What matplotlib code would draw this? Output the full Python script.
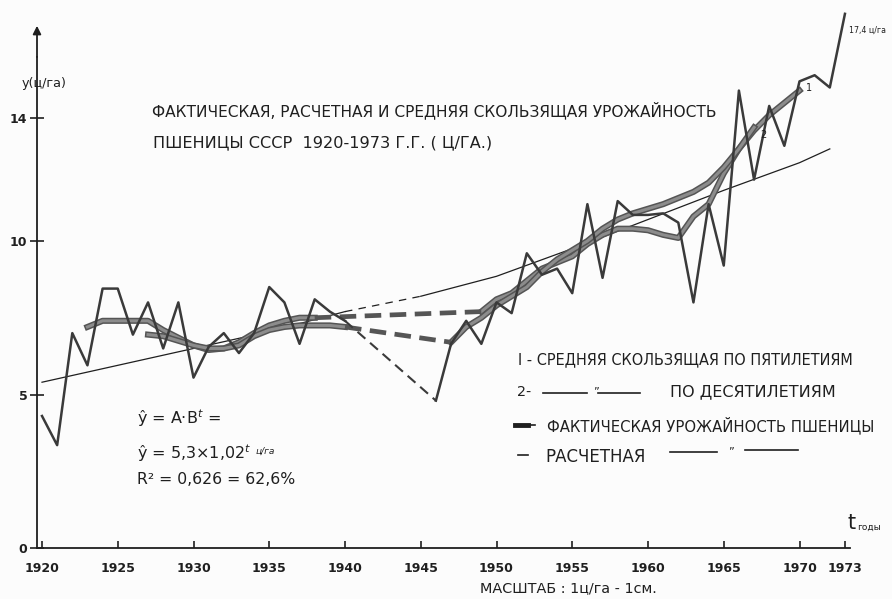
import matplotlib
matplotlib.use("Agg")
import matplotlib.pyplot as plt
from matplotlib import font_manager
from matplotlib.lines import Line2D

# фактическая урожайность (ц/га), до войны и после войны
years_pre = list(range(1920, 1941))
actual_pre = [4.3, 3.35, 7.0, 5.95, 8.45, 8.45, 6.95, 8.0, 6.5, 8.0, 5.55,
              6.55, 7.0, 6.35, 7.0, 8.5, 8.0, 6.65, 8.1, 7.7, 7.4]
years_post = list(range(1946, 1974))
actual_post = [4.8, 6.65, 7.4, 6.65, 8.0, 7.65, 9.6, 8.9, 9.1, 8.3, 11.2, 8.8,
               11.3, 10.85, 10.85, 10.9, 10.6, 8.0, 11.2, 9.2, 14.9, 12.0, 14.4,
               13.1, 15.2, 15.4, 15.0, 17.4]

# 1 - скользящая по пятилетиям
ma5_pre_years = list(range(1923, 1939))
ma5_pre = [7.2, 7.4, 7.4, 7.4, 7.4, 7.1, 6.85, 6.6, 6.45, 6.5, 6.7, 7.0, 7.25,
           7.4, 7.5, 7.5]
ma5_post_years = list(range(1949, 1971))
ma5_post = [7.7, 8.1, 8.3, 8.7, 9.1, 9.3, 9.5, 9.9, 10.2, 10.4, 10.4, 10.35,
            10.2, 10.1, 10.8, 11.2, 12.2, 13.0, 13.6, 14.1, 14.5, 14.9]

# 2 - скользящая по десятилетиям
ma10_pre_years = list(range(1927, 1941))
ma10_pre = [6.95, 6.9, 6.75, 6.6, 6.5, 6.5, 6.6, 6.9, 7.1, 7.2, 7.25, 7.25,
            7.25, 7.2]
ma10_post_years = list(range(1947, 1968))
ma10_post = [6.7, 7.2, 7.5, 7.9, 8.2, 8.5, 9.0, 9.4, 9.7, 10.0, 10.4, 10.7,
             10.9, 11.05, 11.2, 11.4, 11.6, 11.9, 12.4, 13.0, 13.7]

# расчетная (тренд)
trend_years = [1920, 1925, 1930, 1935, 1940, 1945, 1950, 1955, 1960, 1965, 1970, 1972]
trend_vals = [5.4, 5.95, 6.5, 7.05, 7.7, 8.2, 8.85, 9.75, 10.7, 11.65, 12.55, 13.0]

x_ticks = [1920, 1925, 1930, 1935, 1940, 1945, 1950, 1955, 1960, 1965, 1970, 1973]
y_ticks = [0, 5, 10, 14]

W, H = 892, 599
names = {f.name for f in font_manager.fontManager.ttflist}
narrow = "Liberation Sans Narrow" if "Liberation Sans Narrow" in names else "DejaVu Sans"
INK = "#1f1f1f"
GREY = "#8c8c8c"

fig = plt.figure(figsize=(W / 100, H / 100), dpi=100, facecolor="#fcfcfc")
x0_px, x1_px, y0_px, ytop_px = 37, 850, 548, 2
px_yr, yr0_px, px_unit = 15.15, 42, 30.7
ax = fig.add_axes([x0_px / W, 1 - y0_px / H, (x1_px - x0_px) / W, (y0_px - ytop_px) / H])
ax.set_facecolor("none")
ax.set_xlim(1920 - (yr0_px - x0_px) / px_yr, 1920 + (x1_px - yr0_px) / px_yr)
ax.set_ylim(0, (y0_px - ytop_px) / px_unit)

for s in ["top", "right"]:
    ax.spines[s].set_visible(False)
ax.spines["left"].set_bounds(0, 16.0)
for s in ["left", "bottom"]:
    ax.spines[s].set_color(INK)
    ax.spines[s].set_linewidth(1.3)
ax.annotate("", xy=(ax.get_xlim()[0], 17.1), xytext=(ax.get_xlim()[0], 15.9),
            arrowprops=dict(arrowstyle="-|>", color=INK, lw=1.3, mutation_scale=12),
            annotation_clip=False)

ax.set_xticks(x_ticks)
ax.set_xticklabels([str(v) for v in x_ticks], family=narrow, fontsize=9,
                   fontweight="bold", color=INK)
ax.tick_params(axis="x", direction="in", length=5, width=1.2, color=INK, pad=10)
ax.set_yticks(y_ticks)
ax.set_yticklabels([str(v) for v in y_ticks], family=narrow, fontsize=9,
                   fontweight="bold", color=INK)
ax.tick_params(axis="y", direction="inout", length=10, width=1.2, color=INK, pad=2)

# тренд
i40 = trend_years.index(1940)
i45 = trend_years.index(1945)
ax.plot(trend_years[:i40 + 1], trend_vals[:i40 + 1], color=INK, lw=0.9)
ax.plot(trend_years[i40:i45 + 1], trend_vals[i40:i45 + 1], color=INK, lw=0.9,
        dashes=(6, 5))
ax.plot(trend_years[i45:], trend_vals[i45:], color=INK, lw=0.9)

# скользящие средние
for yrs, vals in [(ma5_pre_years, ma5_pre), (ma5_post_years, ma5_post),
                  (ma10_pre_years, ma10_pre), (ma10_post_years, ma10_post)]:
    ax.plot(yrs, vals, color="#555555", lw=4.4, solid_joinstyle="round")
    ax.plot(yrs, vals, color=GREY, lw=2.2, solid_joinstyle="round")
ax.plot([ma5_pre_years[-1], ma5_post_years[0]], [ma5_pre[-1], ma5_post[0]],
        color="#555555", lw=3.4, dashes=(3.5, 1.8))
ax.plot([ma10_pre_years[-1], ma10_post_years[0]], [ma10_pre[-1], ma10_post[0]],
        color="#555555", lw=3.4, dashes=(3.5, 1.8))

# фактическая
ax.plot(years_pre, actual_pre, color="#3a3a3a", lw=1.8)
ax.plot(years_post, actual_post, color="#3a3a3a", lw=1.8, clip_on=False)
ax.plot([years_pre[-1], years_post[0]], [actual_pre[-1], actual_post[0]],
        color="#3a3a3a", lw=1.5, dashes=(5, 3))

renderer = fig.canvas.get_renderer()


def label(x, y, s, width=None, size=10, ha="left", family=narrow, **kw):
    t = fig.text(x / W, 1 - y / H, s, ha=ha, va="center", fontsize=size,
                 family=family, color=INK, **kw)
    if width:
        w = t.get_window_extent(renderer).width
        t.set_fontsize(size * width / w)
    return t


def seg(xa, xb, y, lw=1.2):
    fig.add_artist(Line2D([xa / W, xb / W], [1 - y / H] * 2, color=INK, lw=lw))


label(152, 110, "ФАКТИЧЕСКАЯ, РАСЧЕТНАЯ И СРЕДНЯЯ СКОЛЬЗЯЩАЯ УРОЖАЙНОСТЬ", width=566)
label(153, 143, "ПШЕНИЦЫ СССР  1920-1973 Г.Г. ( Ц/ГА.)", width=337)

label(22, 84, "у(ц/га)", width=45, family="DejaVu Sans")
label(848, 523, "t", size=15, family="DejaVu Sans")
label(857, 527, "годы", size=6.5, family="DejaVu Sans")
label(849, 30, "17,4 ц/га", width=37, family="DejaVu Sans")
label(806, 88, "1", size=7, family="DejaVu Sans")
label(760, 135, "2", size=7, family="DejaVu Sans")

label(518, 360, "I - СРЕДНЯЯ СКОЛЬЗЯЩАЯ ПО ПЯТИЛЕТИЯМ", width=335)
label(517, 392, "2-", width=14)
seg(543, 587, 393)
label(593, 391, "\u201d", size=8)
seg(598, 640, 393)
label(670, 392, "ПО ДЕСЯТИЛЕТИЯМ", width=165)
seg(515, 528, 425, lw=3.5)
seg(530, 535, 425, lw=1.2)
label(547, 425, "ФАКТИЧЕСКАЯ УРОЖАЙНОСТЬ ПШЕНИЦЫ", width=328)
seg(518, 528, 455)
label(545, 457, "РАСЧЕТНАЯ", width=100)
seg(670, 717, 452)
label(728, 451, "\u201d", size=8)
seg(745, 798, 450)

label(137, 418, "ŷ = A·B$^t$ =", size=11.5, family="DejaVu Sans")
label(137, 453, "ŷ = 5,3×1,02$^t$", size=11.5, family="DejaVu Sans")
label(256, 451, "ц/га", size=6.5, family="DejaVu Sans", style="italic")
label(137, 480, "R² = 0,626 = 62,6%", width=158, family="DejaVu Sans")

label(568, 588, "МАСШТАБ : 1ц/га - 1см.", width=177, ha="center")

fig.savefig("out.png", dpi=100, facecolor=fig.get_facecolor())
